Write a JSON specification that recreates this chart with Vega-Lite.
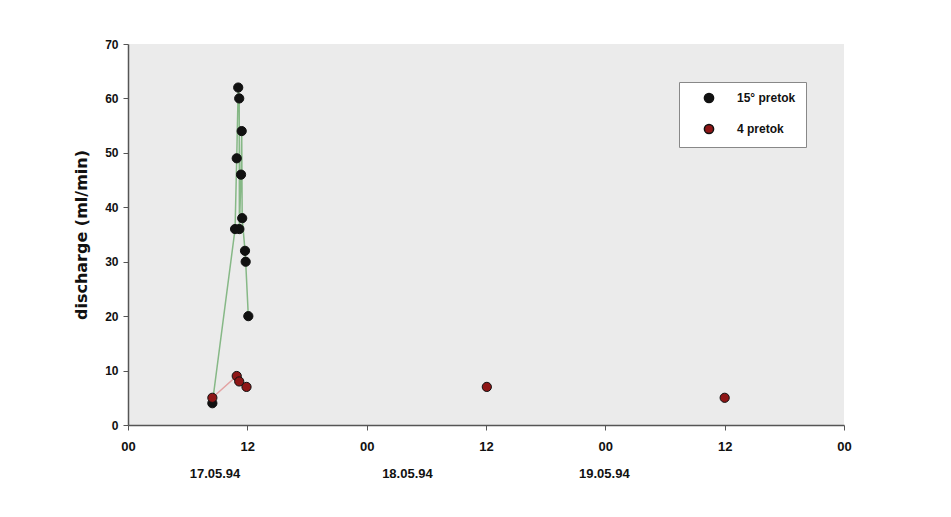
{
  "$schema": "https://vega.github.io/schema/vega-lite/v6.json",
  "autosize": {"type": "none"},
  "width": 716,
  "height": 381,
  "padding": {"left": 128, "top": 44, "right": 107, "bottom": 92},
  "background": "white",
  "config": {
    "view": {"fill": "#ebebeb", "stroke": null},
    "axis": {"grid": false}
  },
  "data": {"values": [
      {"series": "15° pretok", "grp": "a", "time": "1994-05-17T08:29:00", "q": 4},
      {"series": "15° pretok", "grp": "a", "time": "1994-05-17T10:46:00", "q": 36},
      {"series": "15° pretok", "grp": "a", "time": "1994-05-17T10:56:00", "q": 49},
      {"series": "15° pretok", "grp": "a", "time": "1994-05-17T11:05:00", "q": 62},
      {"series": "15° pretok", "grp": "a", "time": "1994-05-17T11:11:00", "q": 60},
      {"series": "15° pretok", "grp": "a", "time": "1994-05-17T11:12:00", "q": 36},
      {"series": "15° pretok", "grp": "a", "time": "1994-05-17T11:22:00", "q": 46},
      {"series": "15° pretok", "grp": "a", "time": "1994-05-17T11:26:00", "q": 54},
      {"series": "15° pretok", "grp": "a", "time": "1994-05-17T11:29:00", "q": 38},
      {"series": "15° pretok", "grp": "a", "time": "1994-05-17T11:46:00", "q": 32},
      {"series": "15° pretok", "grp": "a", "time": "1994-05-17T11:50:00", "q": 30},
      {"series": "15° pretok", "grp": "a", "time": "1994-05-17T12:06:00", "q": 20},
      {"series": "4 pretok", "grp": "b", "time": "1994-05-17T08:29:00", "q": 5},
      {"series": "4 pretok", "grp": "b", "time": "1994-05-17T10:56:00", "q": 9},
      {"series": "4 pretok", "grp": "b", "time": "1994-05-17T11:11:00", "q": 8},
      {"series": "4 pretok", "grp": "b", "time": "1994-05-17T11:55:00", "q": 7},
      {"series": "4 pretok", "grp": "c", "time": "1994-05-18T12:05:00", "q": 7},
      {"series": "4 pretok", "grp": "d", "time": "1994-05-19T12:00:00", "q": 5}
  ]},
  "layer": [
    {
      "mark": {"type": "line", "strokeWidth": 1.5},
      "encoding": {
        "x": {"field": "time", "type": "temporal",
          "scale": {"domain": [{"year": 1994, "month": 5, "date": 17, "hours": 0}, {"year": 1994, "month": 5, "date": 20, "hours": 0}]},
          "axis": {"title": null, "format": "%H",
            "values": [
              {"year": 1994, "month": 5, "date": 17, "hours": 0},
              {"year": 1994, "month": 5, "date": 17, "hours": 12},
              {"year": 1994, "month": 5, "date": 18, "hours": 0},
              {"year": 1994, "month": 5, "date": 18, "hours": 12},
              {"year": 1994, "month": 5, "date": 19, "hours": 0},
              {"year": 1994, "month": 5, "date": 19, "hours": 12},
              {"year": 1994, "month": 5, "date": 20, "hours": 0}
            ],
            "labelFont": "Liberation Sans", "labelFontWeight": "bold", "labelFontSize": 13, "labelColor": "#111111",
            "labelPadding": 10, "tickSize": 5, "tickColor": "#555555", "domainColor": "#555555", "domainWidth": 1.5, "labelFlush": false}},
        "y": {"field": "q", "type": "quantitative",
          "scale": {"domain": [0, 70], "nice": false},
          "axis": {"title": "discharge  (ml/min)", "values": [0, 10, 20, 30, 40, 50, 60, 70],
            "labelFont": "Liberation Sans", "labelFontWeight": "bold", "labelFontSize": 12, "labelColor": "#111111",
            "titleFont": "DejaVu Sans", "titleFontWeight": "bold", "titleFontSize": 16, "titleColor": "#111111",
            "labelPadding": 5, "tickSize": 5, "titlePadding": 15, "tickColor": "#555555", "domainColor": "#555555", "domainWidth": 1.5}},
        "stroke": {"field": "series", "type": "nominal", "legend": null,
          "scale": {"range": ["#86b886", "#e3a3a3"]}},
        "detail": {"field": "grp", "type": "nominal"}
      }
    },
    {
      "mark": {"type": "point", "filled": true, "shape": "circle", "size": 85, "stroke": "#111111", "strokeWidth": 1, "opacity": 1},
      "encoding": {
        "x": {"field": "time", "type": "temporal"},
        "y": {"field": "q", "type": "quantitative"},
        "fill": {"field": "series", "type": "nominal",
          "scale": {"domain": ["15° pretok", "4 pretok"], "range": ["#111111", "#8e1616"]},
          "legend": {
            "title": null, "orient": "top-right", "offset": 38,
            "labelFontSize": 12, "labelFontWeight": "bold", "labelColor": "#111111",
            "symbolSize": 85, "symbolOffset": 14, "labelOffset": 22, "rowPadding": 15,
            "fillColor": "white", "strokeColor": "#888888", "padding": 10
          }
        }
      }
    },
    {
      "data": {"values": [
        {"time": "1994-05-17T08:45:00", "label": "17.05.94", "pos": -9},
        {"time": "1994-05-18T04:06:00", "label": "18.05.94", "pos": -9},
        {"time": "1994-05-18T23:54:00", "label": "19.05.94", "pos": -9}
      ]},
      "mark": {"type": "text", "font": "Liberation Sans", "fontWeight": "bold", "fontSize": 13, "color": "#111111", "align": "center", "baseline": "middle"},
      "encoding": {
        "x": {"field": "time", "type": "temporal"},
        "y": {"field": "pos", "type": "quantitative"},
        "text": {"field": "label", "type": "nominal"}
      }
    }
  ]
}
